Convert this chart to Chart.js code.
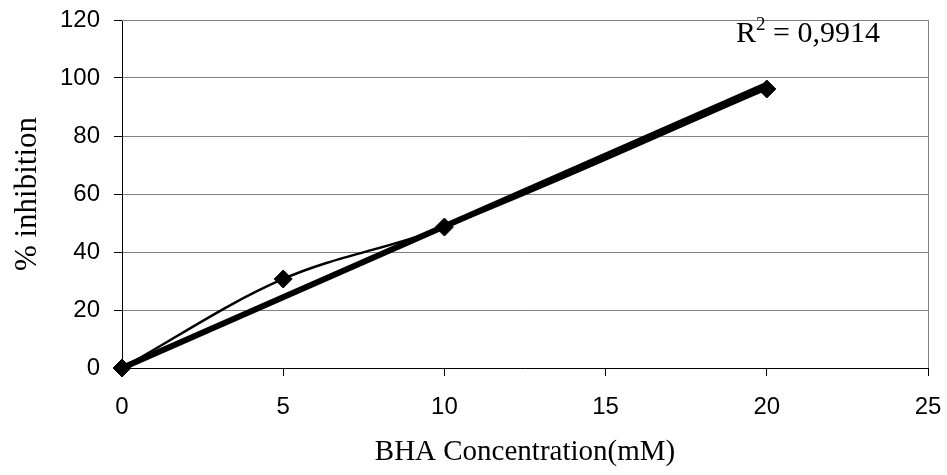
<!DOCTYPE html>
<html>
<head>
<meta charset="utf-8">
<script src="https://cdn.jsdelivr.net/npm/chart.js@4/dist/chart.umd.min.js"></script>
<style>
  html, body { margin: 0; padding: 0; background: #fff; }
  #wrap { width: 947px; height: 475px; }
</style>
</head>
<body>
<div id="wrap"><canvas id="c" width="947" height="475"></canvas></div>
<script>
// BHA concentration (mM) and measured % inhibition
const concentrations = [0, 5, 10, 20];
const inhibition = [0, 30.7, 48.6, 96.2];
const rSquaredText = '0,9914';

const xTicks = [0, 5, 10, 15, 20, 25];
const yTicks = [0, 20, 40, 60, 80, 100, 120];

// Linear trend forced through the origin (least squares)
let sxy = 0, sxx = 0;
concentrations.forEach((x, i) => { sxy += x * inhibition[i]; sxx += x * x; });
const slope = sxy / sxx;
const xFirst = concentrations[0];
const xLast = concentrations[concentrations.length - 1];
const trendPoints = [
  { x: xFirst, y: slope * xFirst },
  { x: xLast, y: slope * xLast }
];

const measuredPoints = concentrations.map((x, i) => ({ x: x, y: inhibition[i] }));

const serif = "'Liberation Serif', 'Times New Roman', serif";
const sans = "'Liberation Sans', Arial, sans-serif";

// Grey frame on the top and right of the plot, plus the R² note
const framePlugin = {
  id: 'frame',
  afterDraw(chart) {
    const { ctx, chartArea: a } = chart;
    ctx.save();
    ctx.strokeStyle = '#808080';
    ctx.lineWidth = 1;
    ctx.beginPath();
    ctx.moveTo(a.left, a.top + 0.5);
    ctx.lineTo(a.right + 0.5, a.top + 0.5);
    ctx.lineTo(a.right + 0.5, a.bottom);
    ctx.stroke();

    // R² = value
    let x = a.right - 192;
    const base = a.top + 22;
    ctx.fillStyle = '#000';
    ctx.textBaseline = 'alphabetic';
    ctx.textAlign = 'left';
    ctx.font = '30px ' + serif;
    ctx.fillText('R', x, base);
    x += ctx.measureText('R').width;
    ctx.font = '19px ' + serif;
    ctx.fillText('2', x, base - 12);
    x += ctx.measureText('2').width;
    ctx.font = '30px ' + serif;
    ctx.fillText(' = ' + rSquaredText, x, base);
    ctx.restore();
  }
};

new Chart(document.getElementById('c'), {
  type: 'line',
  data: {
    datasets: [
      {
        label: '% inhibition',
        data: measuredPoints,
        borderColor: '#000',
        backgroundColor: '#000',
        borderWidth: 2.5,
        tension: 0.35,
        clip: false,
        pointStyle: 'rectRot',
        pointRadius: 9,
        pointBorderWidth: 1,
        pointBackgroundColor: '#000',
        pointBorderColor: '#000',
        fill: false
      },
      {
        label: 'Linear trend',
        data: trendPoints,
        borderColor: '#000',
        borderWidth: 6,
        tension: 0,
        clip: false,
        pointRadius: 0,
        fill: false
      }
    ]
  },
  options: {
    responsive: false,
    animation: false,
    layout: { padding: { top: 20, right: 19, left: 0, bottom: 0 } },
    plugins: {
      legend: { display: false },
      tooltip: { enabled: false }
    },
    scales: {
      x: {
        type: 'linear',
        min: xTicks[0],
        max: xTicks[xTicks.length - 1],
        afterBuildTicks(s) { s.ticks = xTicks.map(v => ({ value: v })); },
        afterFit(s) {
          s.height = 107;
          s.paddingLeft = 0; s.paddingRight = 0;
          s.paddingTop = 0; s.paddingBottom = 0;
        },
        grid: {
          display: true,
          drawOnChartArea: false,
          drawTicks: true,
          tickLength: 8,
          tickColor: '#000'
        },
        border: { display: true, color: '#000', width: 1 },
        ticks: {
          color: '#000',
          font: { family: sans, size: 24 },
          padding: 17,
          maxRotation: 0
        },
        title: {
          display: true,
          text: 'BHA Concentration(mM)',
          color: '#000',
          font: { family: serif, size: 29 },
          padding: { top: 5, bottom: 5 }
        }
      },
      y: {
        type: 'linear',
        min: yTicks[0],
        max: yTicks[yTicks.length - 1],
        afterBuildTicks(s) { s.ticks = yTicks.map(v => ({ value: v })); },
        afterFit(s) {
          s.width = 122;
          s.paddingLeft = 0; s.paddingRight = 0;
          s.paddingTop = 0; s.paddingBottom = 0;
        },
        grid: {
          color: '#808080',
          lineWidth: 1,
          drawTicks: true,
          tickLength: 8,
          tickColor: '#000'
        },
        border: { display: true, color: '#000', width: 1 },
        ticks: {
          color: '#000',
          font: { family: sans, size: 24 },
          padding: 14
        },
        title: {
          display: true,
          text: '% inhibition',
          color: '#000',
          font: { family: serif, size: 31 },
          padding: { top: 9, bottom: 9 }
        }
      }
    }
  },
  plugins: [framePlugin]
});
</script>
</body>
</html>
